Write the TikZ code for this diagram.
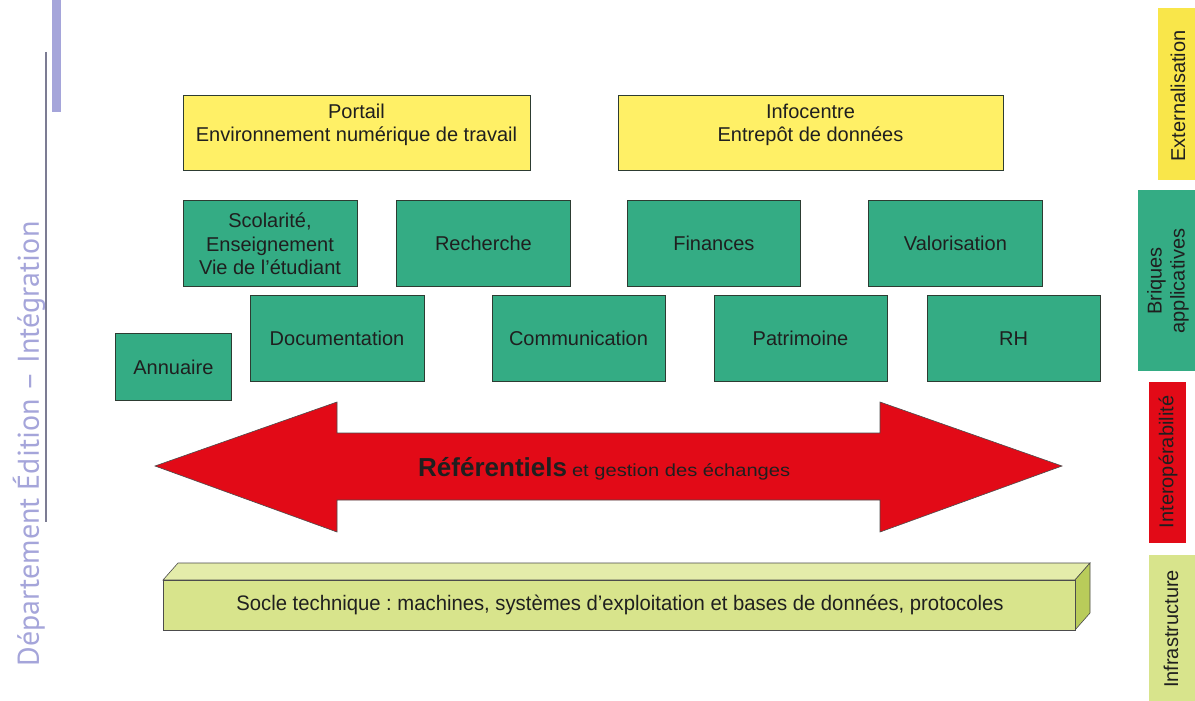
\documentclass[tikz,border=0pt]{standalone}
\usepackage{fontspec}
\setmainfont{Liberation Sans}
\newfontfamily\widefont[FakeStretch=1.15]{Liberation Sans}
\newfontfamily\soclefont[FakeStretch=0.965]{Liberation Sans}
\newfontfamily\deptfont{PT Sans}
\frenchspacing
\definecolor{brick}{RGB}{52,172,132}
\definecolor{yelbox}{RGB}{255,240,102}
\definecolor{yelside}{RGB}{249,230,74}
\definecolor{redarrow}{RGB}{226,10,23}
\definecolor{soclefront}{RGB}{216,228,140}
\definecolor{socletop}{RGB}{228,236,170}
\definecolor{socleside}{RGB}{185,204,90}
\definecolor{dept}{RGB}{165,165,218}
\definecolor{boxline}{RGB}{45,60,50}
\tikzset{
  boxfont/.style={font=\fontsize{20}{23.5}\selectfont, text=black!88},
  brickbox/.style={draw=boxline, line width=0.8pt, fill=brick, anchor=north west, inner sep=0pt,
    align=center, boxfont},
  yellowbox/.style={draw=boxline, line width=0.8pt, fill=yelbox, anchor=north west, inner sep=0pt},
  legendtxt/.style={rotate=90, align=center, font=\fontsize{20}{23}\selectfont, text=black!88},
}
\begin{document}
\begin{tikzpicture}[x=1pt,y=-1pt]
\useasboundingbox (0,0) rectangle (1195,701);
\fill[white] (0,0) rectangle (1195,701);

% left department band
\fill[dept] (52,0) rectangle (61,112);
\draw[dept!55!black!80, line width=1.2pt] (46,52) -- (46,522);
\node[rotate=90, text=dept, font=\deptfont\fontsize{30}{32}\selectfont] (deptlabel) at (29,444) {Département Édition – Intégration};

% top yellow boxes
\node[yellowbox, minimum width=347pt, minimum height=75pt] (portail) at (183,95) {};
\node[boxfont, align=center, font=\fontsize{20}{22.5}\selectfont] (portailtxt) at (356.5,125) {Portail\\Environnement numérique de travail};
\node[yellowbox, minimum width=385pt, minimum height=75pt] (infocentre) at (618,95) {};
\node[boxfont, align=center, font=\fontsize{20}{22.5}\selectfont] (infotxt) at (810.5,125) {Infocentre\\Entrepôt de données};

% green bricks row 1
\node[brickbox, minimum width=174pt, minimum height=86pt] (scol) at (183,200) {};
\node[boxfont, align=center] (scoltxt) at (270,244) {Scolarité,\\Enseignement\\Vie de l’étudiant};
\node[brickbox, minimum width=174pt, minimum height=86pt] (rech) at (396,200) {Recherche};
\node[brickbox, minimum width=173pt, minimum height=86pt] (fin) at (627,200) {Finances};
\node[brickbox, minimum width=174pt, minimum height=86pt] (valo) at (868,200) {Valorisation};

% green bricks row 2
\node[brickbox, minimum width=174pt, minimum height=86pt] (doc) at (250,295) {};
\node[boxfont] (doctxt) at (337,338) {Documentation};
\node[brickbox, minimum width=173pt, minimum height=86pt] (comm) at (492,295) {};
\node[boxfont] (commtxt) at (578.5,338) {Communication};
\node[brickbox, minimum width=173pt, minimum height=86pt] (patr) at (714,295) {};
\node[boxfont] (patrtxt) at (800.5,338) {Patrimoine};
\node[brickbox, minimum width=173pt, minimum height=86pt] (rh) at (927,295) {};
\node[boxfont] (rhtxt) at (1013.5,339) {RH};
\node[brickbox, minimum width=116pt, minimum height=67pt] (annu) at (115,333) {Annuaire};

% red double arrow
\draw[fill=redarrow, draw=black!70, line width=0.6pt]
  (155,466) -- (337,402) -- (337,433) -- (880,433) -- (880,402) -- (1062,466)
  -- (880,532) -- (880,500) -- (337,500) -- (337,532) -- cycle;
\node[text=black!88, anchor=base west, inner sep=0pt] (reftxt) at (418,476)
  {{\bfseries\fontsize{26}{28}\selectfont Référentiels}\hspace{5pt}{\widefont\fontsize{17.5}{19}\selectfont et gestion des échanges}};

% socle (3D bar)
\draw[fill=socletop, draw=black!70, line width=0.6pt] (163,580) -- (178,563) -- (1090,563) -- (1075,580) -- cycle;
\draw[fill=socleside, draw=black!70, line width=0.6pt] (1075,580) -- (1090,563) -- (1090,613) -- (1075,630) -- cycle;
\node[draw=black!70, line width=0.6pt, fill=soclefront, anchor=north west, minimum width=912pt, minimum height=50pt, inner sep=0pt] (socle) at (163,580) {};
\node[font=\soclefont\fontsize{21}{23}\selectfont, text=black!88] (socletxt) at (620,605) {Socle technique : machines, systèmes d’exploitation et bases de données, protocoles};

% right legend bands
\fill[yelside] (1158,8) rectangle (1195,180);
\node[legendtxt] (ext) at (1178,96) {Externalisation};
\fill[brick] (1138,190) rectangle (1195,371);
\node[legendtxt] (briq) at (1168,281) {Briques\\applicatives};
\fill[redarrow] (1149,382) rectangle (1186,543);
\node[legendtxt] (interop) at (1168,462) {Interopérabilité};
\fill[soclefront] (1149,555) rectangle (1195,701);
\node[legendtxt] (infra) at (1171,629) {Infrastructure};
\end{tikzpicture}
\end{document}
